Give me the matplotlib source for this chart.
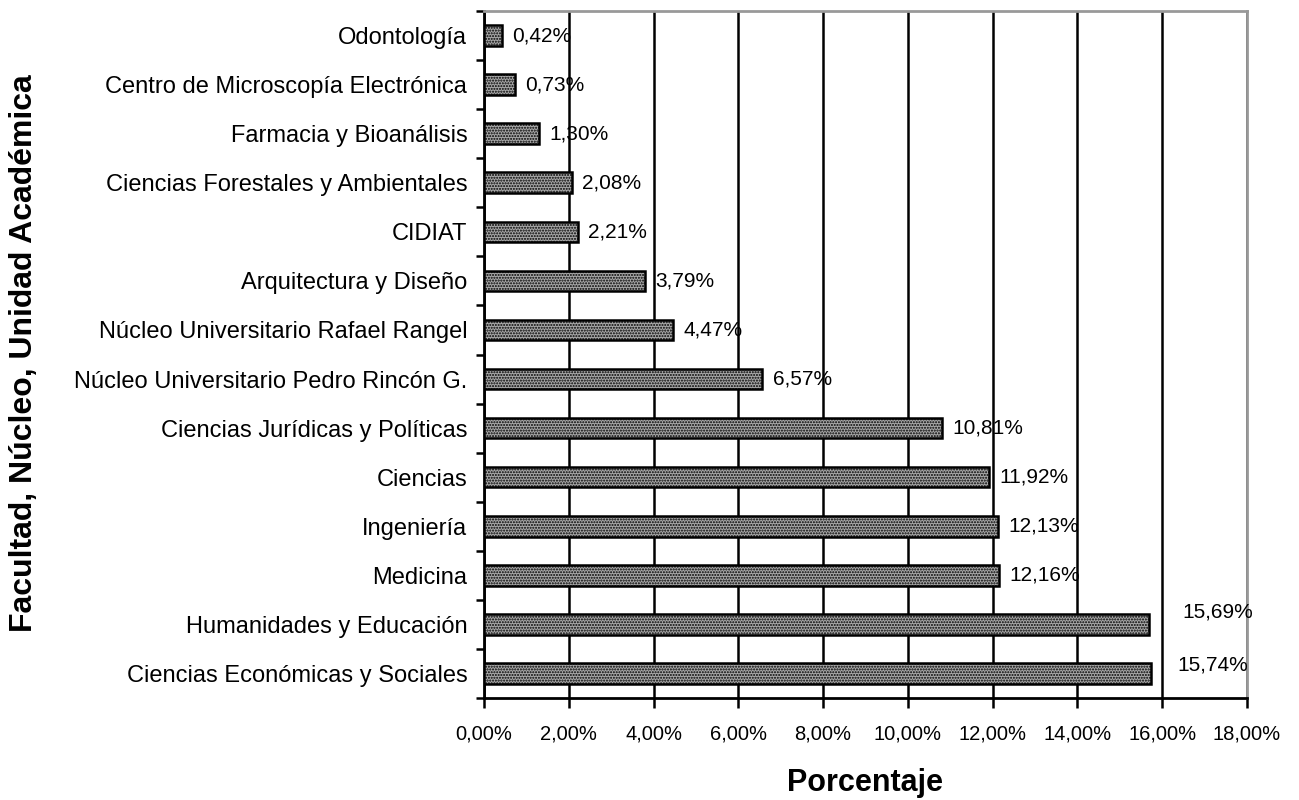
import matplotlib.pyplot as plt
import numpy as np

plt.rcParams['font.family'] = ['Liberation Sans', 'DejaVu Sans']
plt.rcParams['hatch.color'] = '#555555'

categorias = [
    "Ciencias Económicas y Sociales",
    "Humanidades y Educación",
    "Medicina",
    "Ingeniería",
    "Ciencias",
    "Ciencias Jurídicas y Políticas",
    "Núcleo Universitario Pedro Rincón G.",
    "Núcleo Universitario Rafael Rangel",
    "Arquitectura y Diseño",
    "CIDIAT",
    "Ciencias Forestales y Ambientales",
    "Farmacia y Bioanálisis",
    "Centro de Microscopía Electrónica",
    "Odontología",
]
porcentajes = [15.74, 15.69, 12.16, 12.13, 11.92, 10.81, 6.57, 4.47, 3.79, 2.21, 2.08, 1.30, 0.73, 0.42]
xticks = np.arange(0, 18.01, 2)


def fmt(v):
    return f"{v:.2f}%".replace(".", ",")


fig = plt.figure(figsize=(12.99, 8.0), dpi=100)
ax = fig.add_axes([484 / 1299, 1 - 698 / 800, (1247 - 484) / 1299, (698 - 11) / 800])

y = np.arange(len(categorias))
ax.barh(y, porcentajes, height=0.42, color='#a8a8a8', edgecolor='black',
        linewidth=1.8, hatch='......', zorder=3)

for i, v in enumerate(porcentajes):
    if i == 0:
        ax.text(v + 0.62, i + 0.17, fmt(v), fontsize=15, va='center', ha='left', zorder=4)
    elif i == 1:
        ax.text(v + 0.78, i + 0.25, fmt(v), fontsize=15, va='center', ha='left', zorder=4)
    else:
        ax.text(v + 0.24, i, fmt(v), fontsize=15, va='center', ha='left', zorder=4)

ax.set_xlim(0, 18)
ax.set_ylim(-0.5, len(categorias) - 0.5)
ax.set_xticks(xticks)
ax.set_xticklabels([fmt(t) for t in xticks], fontsize=14.5)
ax.set_yticks(y)
ax.set_yticklabels(categorias, fontsize=17)
ax.set_yticks(np.arange(-0.5, len(categorias), 1), minor=True)
ax.tick_params(axis='y', which='major', length=0, pad=12)
ax.tick_params(axis='y', which='minor', length=6, width=1.8)
ax.tick_params(axis='x', length=7, width=1.8, pad=12)

ax.grid(axis='x', color='black', linewidth=1.8, zorder=0)
ax.spines['left'].set_linewidth(2)
ax.spines['bottom'].set_linewidth(2)
for s in ['top', 'right']:
    ax.spines[s].set_color('#999999')
    ax.spines[s].set_linewidth(2)

fig.text(865 / 1299, 1 - 783 / 800, "Porcentaje", fontsize=22,
         fontweight='bold', ha='center', va='center')
fig.text(24 / 1299, 1 - 353 / 800, "Facultad, Núcleo, Unidad Académica", fontsize=23,
         fontweight='bold', rotation=90, ha='center', va='center')

fig.savefig("out.png", dpi=100)
